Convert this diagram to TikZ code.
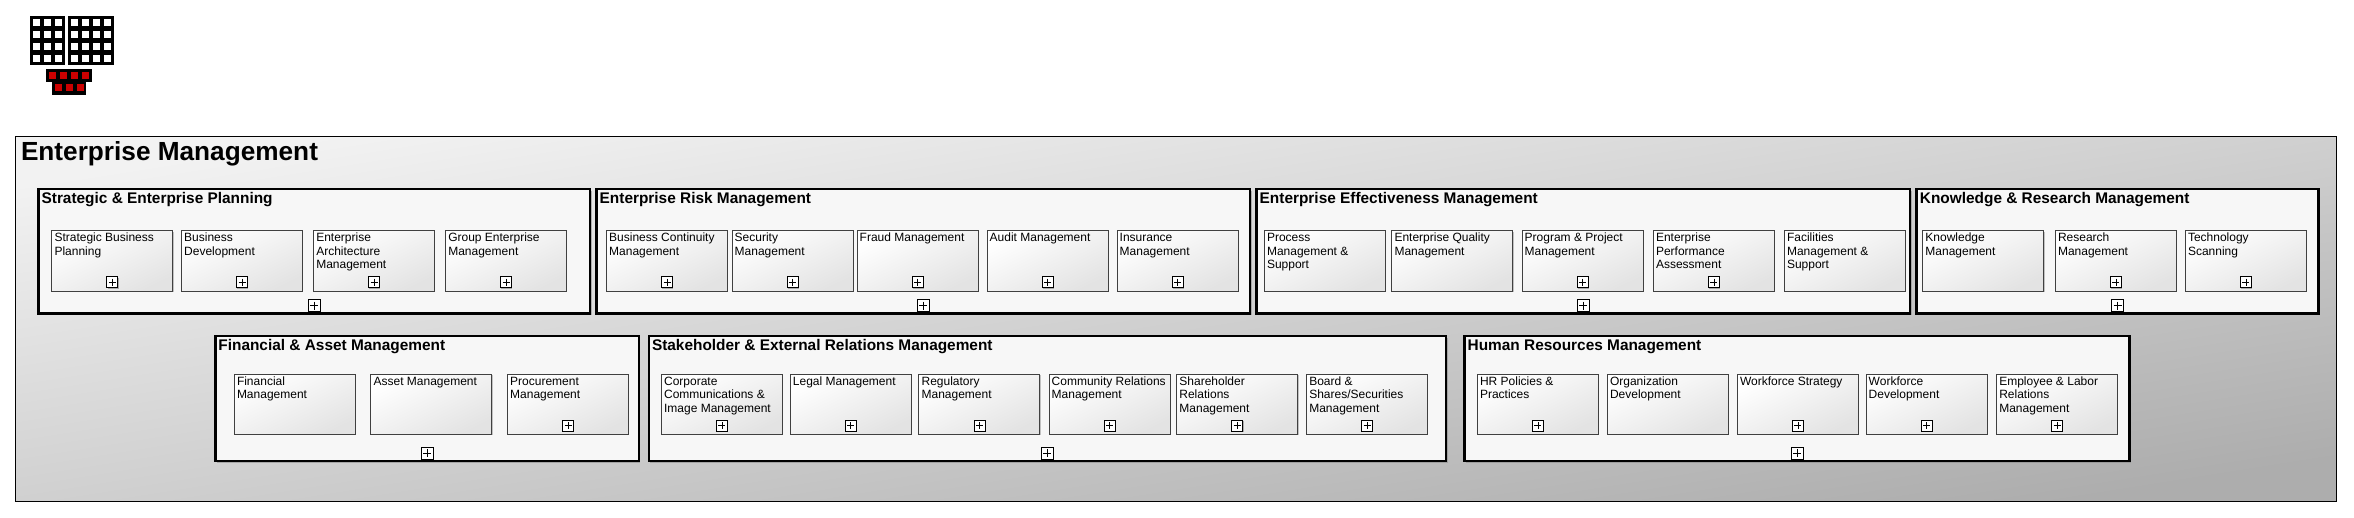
\documentclass[tikz,border=0pt]{standalone}
\usepackage{fontspec}
\setmainfont{Liberation Sans}
\usepackage{xcolor}
\usepackage{tikz}
\usetikzlibrary{positioning}
\usetikzlibrary{shadows}
\definecolor{iconred}{HTML}{CC0000}
\tikzset{
    outerbox/.style={draw=black, line width=1pt, anchor=north west, inner sep=0pt, outer sep=0pt, left color=black!5, right color=black!32, shading angle=9},
    maintitle/.style={anchor=base west, inner sep=0pt, font=\fontsize{26.2}{28}\selectfont\bfseries},
    groupbox/.style={draw=black, line width=2.6pt, fill=black!3, anchor=north west, inner sep=0pt, outer sep=0pt, drop shadow={shadow xshift=1.5pt, shadow yshift=-1.5pt, fill=black!45, opacity=.6}},
    grouptitle/.style={anchor=base west, inner sep=0pt, font=\fontsize{15.4}{17}\selectfont\bfseries},
    procbox/.style={draw=black!75, line width=1pt, anchor=north west, inner sep=0pt, outer sep=0pt, minimum width=121pt, minimum height=60.6pt, left color=white, right color=black!11, shading angle=26, drop shadow={shadow xshift=.8pt, shadow yshift=-.8pt, fill=black!45, opacity=.5}},
    proctext/.style={anchor=north west, align=left, inner xsep=2.5pt, inner ysep=1.5pt, font=\fontsize{12}{13.5}\selectfont},
    plusbox/.style={draw=black, line width=.8pt, fill=white, minimum size=11pt, inner sep=0pt, outer sep=0pt, drop shadow={shadow xshift=.8pt, shadow yshift=-.8pt, fill=black!50, opacity=.6}, path picture={
        \draw[line width=.6pt] ([xshift=2pt]path picture bounding box.west) -- ([xshift=-2pt]path picture bounding box.east);
        \draw[line width=.6pt] ([yshift=-2pt]path picture bounding box.north) -- ([yshift=2pt]path picture bounding box.south);
    }},
}
\newcommand{\procitem}[4]{ % Takes node name, left x, top y, label text as arguments
    \node [procbox] (#1) at (#2, #3) {};
    \node [proctext] (#1text) at (#1.north west) {\strut #4};
}
\newcommand{\procplus}[4]{ % Same arguments as procitem, with the plus mark added
    \procitem{#1}{#2}{#3}{#4}
    \node [plusbox, above=3.6pt of #1.south] (#1plus) {};
}
\newcommand{\procgroup}[6]{ % Takes node name, left x, top y, width, height, title text as arguments
    \node [groupbox, minimum width=#4pt, minimum height=#5pt] (#1) at (#2, #3) {};
    \node [grouptitle, xshift=3pt, yshift=-14.6pt] (#1title) at (#1.north west) {#6};
    \node [plusbox, minimum size=12pt, above=2pt of #1.south] (#1plus) {};
}

\begin{document}
\begin{tikzpicture}[x=1pt, y=-1pt]
    \useasboundingbox (0,0) rectangle (2354,517);

    % Icon
    \fill[black] (30,16) rectangle (65,65);
    \fill[black] (68,16) rectangle (114,65);
    \foreach \row in {18.7,30.7,42.7,54.7} {
        \foreach \col in {33,44,55,71,82,93,104} {
            \fill[white] (\col,\row) rectangle ++(7,7);
        }
    }
    \fill[black] (46,69) rectangle (92,82);
    \fill[black] (52,82) rectangle (86,95);
    \foreach \col in {49,60,71,82} {
        \fill[iconred] (\col,72) rectangle ++(7,7);
    }
    \foreach \col in {55,66,77} {
        \fill[iconred] (\col,84) rectangle ++(7,7);
    }

    % Enterprise box
    \node [outerbox, minimum width=2321.4pt, minimum height=365.5pt] (enterprise) at (15.4,136) {};
    \node [maintitle] (enterprisetitle) at (20.8,160) {Enterprise Management};

    % Strategic
    \procgroup{strategic}{38.4}{189}{551.6}{124.5}{Strategic \& Enterprise Planning}
    \procplus{sbp}{51.8}{230.7}{Strategic Business\\Planning}
    \procplus{bdev}{181.5}{230.7}{Business\\Development}
    \procplus{eam}{313.6}{230.7}{Enterprise\\Architecture\\Management}
    \procplus{gem}{445.6}{230.7}{Group Enterprise\\Management}

    % Risk
    \procgroup{risk}{596.5}{189}{653.5}{124.5}{Enterprise Risk Management}
    \procplus{bcm}{606.5}{230.7}{Business Continuity\\Management}
    \procplus{secm}{732}{230.7}{Security\\Management}
    \procplus{fraud}{857}{230.7}{Fraud Management}
    \procplus{audit}{987}{230.7}{Audit Management}
    \procplus{insur}{1117}{230.7}{Insurance\\Management}

    % Effectiveness
    \procgroup{effect}{1256.5}{189}{653.5}{124.5}{Enterprise Effectiveness Management}
    \procitem{pms}{1264.3}{230.7}{Process\\Management \&\\Support}
    \procitem{eqm}{1391.8}{230.7}{Enterprise Quality\\Management}
    \procplus{ppm}{1522}{230.7}{Program \& Project\\Management}
    \procplus{epa}{1653.3}{230.7}{Enterprise\\Performance\\Assessment}
    \procitem{fms}{1784.3}{230.7}{Facilities\\Management \&\\Support}

    % Knowledge
    \procgroup{knowledge}{1916.7}{189}{401.6}{124.5}{Knowledge \& Research Management}
    \procitem{km}{1922.7}{230.7}{Knowledge\\Management}
    \procplus{rm}{2055.3}{230.7}{Research\\Management}
    \procplus{tscan}{2185.3}{230.7}{Technology\\Scanning}

    % Financial
    \procgroup{financial}{215.2}{336}{423.7}{125}{Financial \& Asset Management}
    \procitem{fm}{234.3}{374}{Financial\\Management}
    \procitem{am}{370.9}{374}{Asset Management}
    \procplus{procm}{507.5}{374}{Procurement\\Management}

    % Stakeholder
    \procgroup{stake}{648.8}{336}{797.2}{125}{Stakeholder \& External Relations Management}
    \procplus{ccim}{661.4}{374}{Corporate\\Communications \&\\Image Management}
    \procplus{legal}{790.2}{374}{Legal Management}
    \procplus{reg}{918.9}{374}{Regulatory\\Management}
    \procplus{crm}{1049}{374}{Community Relations\\Management}
    \procplus{srm}{1176.7}{374}{Shareholder\\Relations\\Management}
    \procplus{bsm}{1306.6}{374}{Board \&\\Shares/Securities\\Management}

    % Human resources
    \procgroup{hr}{1464.5}{336}{665.1}{125}{Human Resources Management}
    \procplus{hrp}{1477.3}{374}{HR Policies \&\\Practices}
    \procitem{odev}{1607.3}{374}{Organization\\Development}
    \procplus{wfs}{1737.3}{374}{Workforce Strategy}
    \procplus{wfd}{1866}{374}{Workforce\\Development}
    \procplus{elr}{1996.6}{374}{Employee \& Labor\\Relations\\Management}
\end{tikzpicture}
\end{document}
